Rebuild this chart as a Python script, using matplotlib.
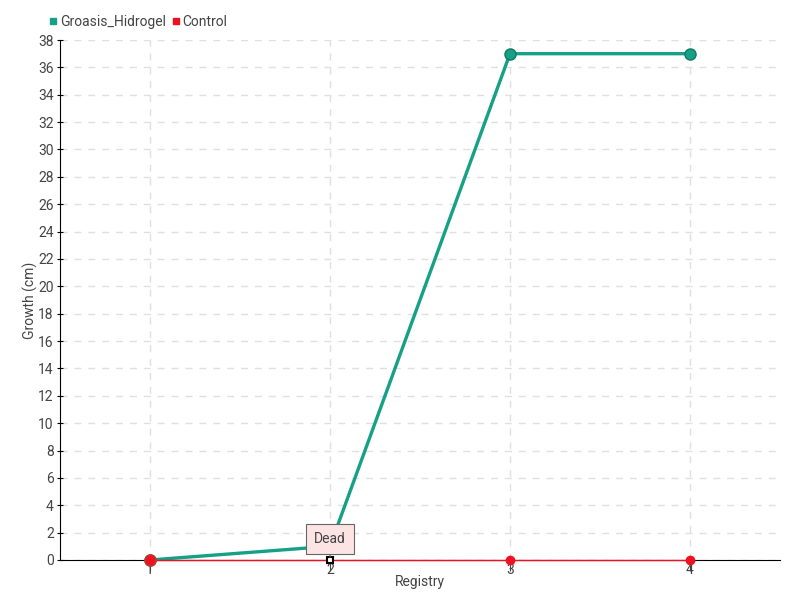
import matplotlib
matplotlib.use("Agg")
import matplotlib.pyplot as plt
from matplotlib.lines import Line2D

registry = [1, 2, 3, 4]
groasis = [0, 1, 37, 37]
control = [0, 0, 0, 0]
yticks = list(range(0, 39, 2))

green = "#16a085"
red = "#ee1122"
plt.rcParams["font.family"] = ["Roboto", "DejaVu Sans"]

fig = plt.figure(figsize=(8, 6), dpi=100)
ax = fig.add_axes([0.075, 0.0667, 0.9, 0.8666])

ax.plot(registry, groasis, color=green, lw=2.4, zorder=3)
ax.plot([registry[0]] + registry[2:], [groasis[0]] + groasis[2:], "o", ms=8,
        color=green, mec="#117a62", mew=1, zorder=4, clip_on=False)
ax.plot(registry, control, color=red, lw=1, zorder=5, clip_on=False)
ax.plot([registry[0]], [control[0]], "o", ms=8, color=red, mec="#c0392b",
        zorder=6, clip_on=False)
ax.plot(registry[2:], control[2:], "o", ms=6, color=red, zorder=6, clip_on=False)
ax.plot([registry[1]], [control[1]], "s", ms=5, color="white", mec="black",
        mew=1.5, zorder=7, clip_on=False)

# small pointer under the tooltip
ax.annotate("", xy=(registry[1], control[1]), xytext=(0, 6),
            textcoords="offset points",
            arrowprops=dict(arrowstyle="-", color="#666666", lw=0.8), zorder=7)
ax.annotate("Dead", xy=(registry[1], control[1]), xytext=(0, 15),
            textcoords="offset points", ha="center", va="center", fontsize=10,
            color="#444444",
            bbox=dict(boxstyle="square,pad=0.6", fc="#fde4e4", ec="#666666", lw=0.8),
            zorder=8)

ax.set_xlim(0.5, 4.5)
ax.set_ylim(0, 38)
ax.set_xticks(registry)
ax.set_yticks(yticks)
ax.tick_params(labelsize=10, colors="#444444", length=4)
ax.tick_params(axis="y", color="black", direction="inout", length=5, pad=2)
ax.tick_params(axis="x", color="#444444", length=8, pad=-6)
ax.grid(True, ls=(0, (5, 5)), color="#e0e0e0", lw=1)
ax.set_axisbelow(True)
for side in ["top", "right"]:
    ax.spines[side].set_visible(False)
ax.spines["left"].set_color("black")
ax.spines["bottom"].set_color("black")
ax.set_xlabel("Registry", fontsize=10, color="#444444", labelpad=-1)
ax.set_ylabel("Growth (cm)", fontsize=10, color="#444444", labelpad=0)

handles = [Line2D([], [], ls="", marker="s", ms=5, color=green),
           Line2D([], [], ls="", marker="s", ms=5, color=red)]
fig.legend(handles, ["Groasis_Hidrogel", "Control"], loc="upper left",
           bbox_to_anchor=(0.042, 0.996), ncol=2, frameon=False, fontsize=10,
           handletextpad=0.0, columnspacing=0.2, handlelength=1.0,
           labelcolor="#444444")

fig.savefig("out.png", dpi=100)
